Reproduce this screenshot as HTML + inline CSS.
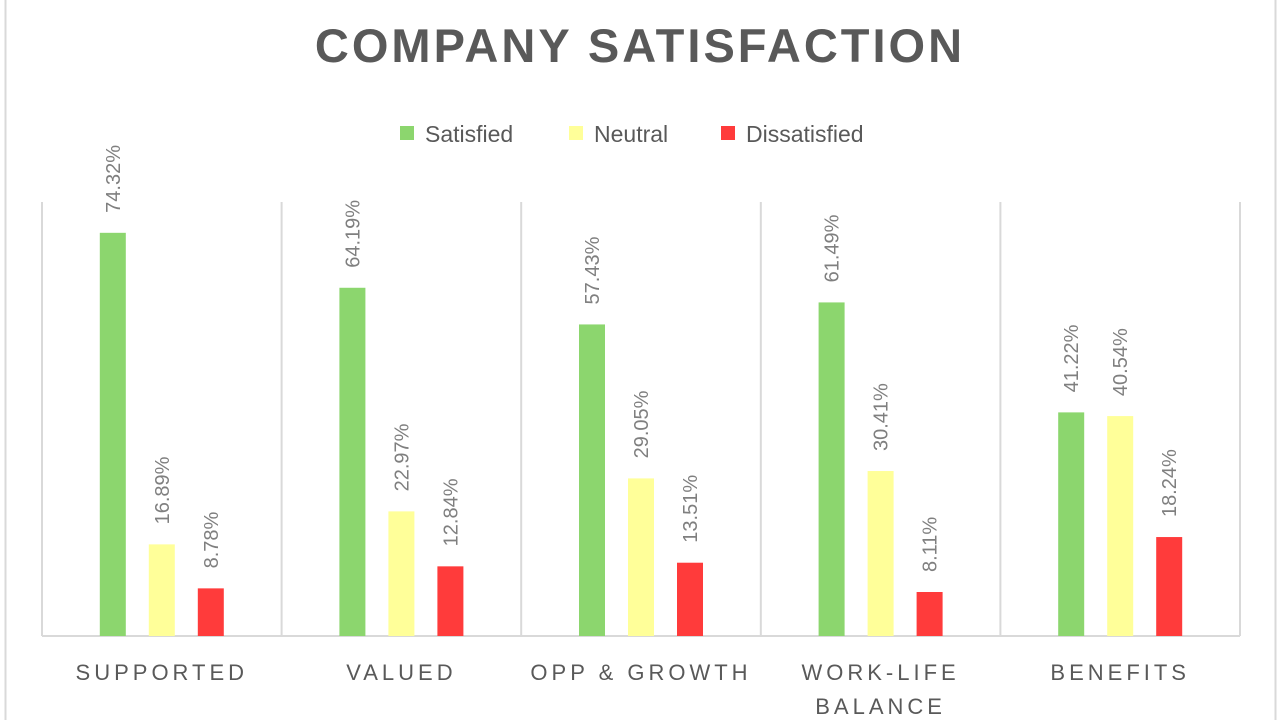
<!DOCTYPE html>
<html><head><meta charset="utf-8"><style>
body{margin:0;background:#fff;}
svg{display:block;font-family:"Liberation Sans",sans-serif;}
</style></head><body>
<svg id="chart" width="1280" height="720" viewBox="0 0 1280 720">
<rect x="0" y="0" width="1280" height="720" fill="#fff"/>
<line x1="5.5" y1="0" x2="5.5" y2="720" stroke="#d9d9d9" stroke-width="2"/>
<line x1="1275.5" y1="0" x2="1275.5" y2="720" stroke="#d9d9d9" stroke-width="2"/>
<text x="640" y="62" text-anchor="middle" font-size="47" font-weight="bold" fill="#595959" letter-spacing="3">COMPANY SATISFACTION</text>
<g id="legend"></g>
<g id="grid"></g>
<g id="bars"></g>
<g id="labels"></g>
</svg>
<script>
const categories = [["SUPPORTED"],["VALUED"],["OPP & GROWTH"],["WORK-LIFE","BALANCE"],["BENEFITS"]];
const seriesNames = ["Satisfied","Neutral","Dissatisfied"];
const satisfied = [74.32,64.19,57.43,61.49,41.22];
const neutral = [16.89,22.97,29.05,30.41,40.54];
const dissatisfied = [8.78,12.84,13.51,8.11,18.24];
const yMax = 80;

const colors = ["#8cd66e","#ffff99","#ff3b3b"];
const series = [satisfied, neutral, dissatisfied];
const NS = "http://www.w3.org/2000/svg";
const plotLeft = 42, plotRight = 1240, plotTop = 202, plotBottom = 636;
const gw = (plotRight-plotLeft)/categories.length;
const yScale = v => plotBottom - v/yMax*(plotBottom-plotTop);
const barW = 26, step = 49;
const xBar = (i,s) => plotLeft + i*gw + gw/2 - barW/2 + (s-1)*step;

function mk(tag, attrs, parent){const e=document.createElementNS(NS,tag);for(const k in attrs)e.setAttribute(k,attrs[k]);parent.appendChild(e);return e;}
const grid=document.getElementById('grid'), bars=document.getElementById('bars'), labels=document.getElementById('labels'), legend=document.getElementById('legend');

for(let i=0;i<=categories.length;i++){
  const l=mk('line',{x1:plotLeft+i*gw,x2:plotLeft+i*gw,y1:plotTop,y2:plotBottom,stroke:'#d9d9d9','stroke-width':2},grid);
  
  
}
const base=mk('line',{x1:plotLeft,x2:plotRight,y1:plotBottom,y2:plotBottom,stroke:'#d9d9d9','stroke-width':2},grid);



categories.forEach((c,i)=>{
  series.forEach((arr,s)=>{
    const v=arr[i], x=xBar(i,s);
    const r=mk('rect',{x:x,y:yScale(v),width:barW,height:plotBottom-yScale(v),fill:colors[s]},bars);
    
    
    const cx=x+barW/2+7, ty=yScale(v)-20;
    const t=mk('text',{x:cx,y:ty,transform:`rotate(-90 ${cx} ${ty})`,'font-size':20,fill:'#7f7f7f'},labels);
    t.textContent=v.toFixed(2)+'%';
    
    
  });
  c.forEach((line,k)=>{
    const t=mk('text',{x:plotLeft+i*gw+gw/2,y:680+k*34,'text-anchor':'middle','font-size':22,fill:'#595959','letter-spacing':4},labels);
    t.textContent=line;
    
    
  });
});

const lx=[400,569,721];
seriesNames.forEach((n,s)=>{
  const r=mk('rect',{x:lx[s],y:126,width:14,height:14,fill:colors[s]},legend);
  
  
  const t=mk('text',{x:lx[s]+25,y:142,'font-size':23,fill:'#595959'},legend);
  t.textContent=n;
  
  
});
</script>
</body></html>
